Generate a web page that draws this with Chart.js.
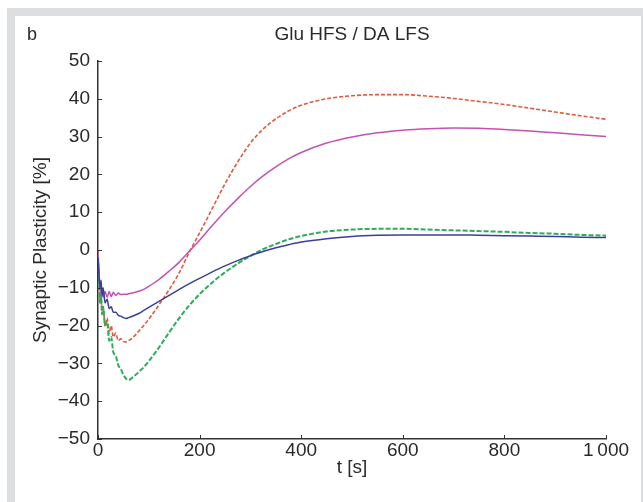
<!DOCTYPE html>
<html>
<head>
<meta charset="utf-8">
<script src="https://cdn.jsdelivr.net/npm/chart.js@4.4.1/dist/chart.umd.min.js"></script>
<style>
  body { margin: 0; background: #fff; }
  #frame { position: absolute; left: 7px; top: 8px; width: 636px; height: 494px; background: #dddedf; }
  #panel { position: absolute; left: 15px; top: 16px; width: 626px; height: 486px; background: #fff; }
  #chart { position: absolute; left: 0; top: 0; }
</style>
</head>
<body>
<div id="frame"></div>
<div id="panel"></div>
<canvas id="chart" width="643" height="502"></canvas>
<script>
// time axis [s]
const time = [0, 2, 4, 6, 8, 10, 14, 18, 22, 26, 30, 35, 40, 45, 50, 55, 60, 70, 80, 90, 100,
  120, 140, 160, 180, 200, 225, 250, 275, 300, 325, 350, 375, 400, 450, 500, 550, 600,
  650, 700, 750, 800, 850, 900, 950, 1000];

// synaptic plasticity [%], one array per curve
const redDashed = [0, -8, -14, -12, -17, -15, -20, -18, -22, -20, -23, -22, -24, -23.5, -24.2, -24.3, -24, -23, -21.5, -20, -18.3,
  -14.5, -10.5, -6, -0.5, 4.5, 11, 17.5, 23.3, 28.3, 32, 34.7, 36.8, 38.3, 40, 40.8, 41.1, 41.1,
  40.7, 40.1, 39.3, 38.5, 37.5, 36.5, 35.5, 34.6];

const magentaSolid = [-1, -6, -10, -13, -11, -12.5, -11, -12.5, -11, -12.3, -11.2, -12, -11.4, -11.8, -11.7, -11.7, -11.6, -11.3, -10.9, -10.4, -9.6,
  -7.8, -5.6, -3.2, -0.3, 2.6, 6.5, 10.2, 13.6, 16.8, 19.6, 22, 24.1, 25.8, 28.3, 29.9, 31, 31.7,
  32.1, 32.3, 32.2, 31.9, 31.5, 31, 30.5, 30];

const blueSolid = [-2, -7, -10, -8, -12, -10, -14, -13, -15.5, -15, -16.5, -16.5, -17.3, -17.5, -17.9, -18.1, -17.9, -17.4, -16.8, -16, -15.2,
  -13.6, -12, -10.4, -8.9, -7.5, -5.8, -4.2, -2.8, -1.5, -0.4, 0.6, 1.4, 2.1, 3, 3.6, 3.9, 4,
  4, 4, 3.9, 3.8, 3.7, 3.6, 3.4, 3.3];

const greenDashed = [-2, -9, -14, -12, -17, -15, -20, -19, -24, -23, -27, -28, -30.5, -31.5, -33, -34, -34.4, -33.5, -32.3, -31, -29.4,
  -25.8, -21.8, -18, -14.6, -11.7, -8.6, -5.9, -3.6, -1.6, 0.2, 1.6, 2.8, 3.7, 4.9, 5.4, 5.6, 5.6,
  5.4, 5.2, 5, 4.8, 4.5, 4.3, 4, 3.8];

const xTicks = [0, 200, 400, 600, 800, 1000];
const yTicks = [-50, -40, -30, -20, -10, 0, 10, 20, 30, 40, 50];

const FONT = '"Liberation Sans", sans-serif';
const INK = '#2a2a2a';

const pts = (vals) => time.map((t, i) => ({x: t, y: vals[i]}));

const mkSet = (vals, color, dash, width) => ({
    data: pts(vals),
    borderColor: color,
    borderWidth: width,
    borderDash: dash,
    pointRadius: 0,
    fill: false,
    cubicInterpolationMode: 'monotone'
});

// panel letter, title and inward tick marks
const extras = {
    id: 'extras',
    afterDraw(chart) {
        const {ctx, chartArea, scales} = chart;
        ctx.save();
        ctx.fillStyle = INK;
        ctx.font = '18px ' + FONT;
        ctx.textBaseline = 'middle';
        ctx.textAlign = 'left';
        ctx.fillText('b', 27, 35);
        ctx.textAlign = 'center';
        ctx.font = '19px ' + FONT;
        ctx.fillText('Glu HFS / DA LFS', (chartArea.left + chartArea.right) / 2, 35);

        ctx.strokeStyle = '#333';
        ctx.lineWidth = 1;
        ctx.beginPath();
        yTicks.forEach(v => {
            const y = Math.round(scales.y.getPixelForValue(v)) + 0.5;
            ctx.moveTo(chartArea.left, y);
            ctx.lineTo(chartArea.left + 4, y);
        });
        xTicks.forEach(v => {
            const x = Math.round(scales.x.getPixelForValue(v)) + 0.5;
            ctx.moveTo(x, chartArea.bottom);
            ctx.lineTo(x, chartArea.bottom - 4);
        });
        ctx.stroke();
        ctx.restore();
    }
};

const ctx = document.getElementById('chart').getContext('2d');
new Chart(ctx, {
    type: 'line',
    data: {
        datasets: [
            mkSet(blueSolid, '#3c3f98', [], 1.5),
            mkSet(greenDashed, '#2eac5c', [5, 2], 2),
            mkSet(magentaSolid, '#c452b2', [], 1.5),
            mkSet(redDashed, '#e4593b', [4, 2], 1.6)
        ]
    },
    options: {
        responsive: false,
        animation: false,
        devicePixelRatio: 1,
        layout: { padding: { left: 0, right: 37, top: 61, bottom: 13 } },
        plugins: { legend: { display: false }, tooltip: { enabled: false } },
        scales: {
            x: {
                type: 'linear',
                min: 0,
                max: 1000,
                afterFit: (s) => { s.height = 50; },
                afterBuildTicks: (s) => { s.ticks = xTicks.map(v => ({value: v})); },
                grid: { display: true, drawOnChartArea: false, drawTicks: false },
                border: { color: '#333', width: 1.5 },
                ticks: {
                    padding: 0,
                    color: INK,
                    font: { family: FONT, size: 19 },
                    maxRotation: 0,
                    callback: (v) => v === 1000 ? '1\u2009000' : String(v)
                },
                title: {
                    display: true,
                    text: 't [s]',
                    color: INK,
                    font: { family: FONT, size: 19 },
                    padding: { top: 0, bottom: 10 }
                }
            },
            y: {
                min: -50,
                max: 50,
                afterFit: (s) => { s.width = 98; },
                afterBuildTicks: (s) => { s.ticks = yTicks.map(v => ({value: v})); },
                grid: { display: true, drawOnChartArea: false, drawTicks: false },
                border: { color: '#333', width: 1.5 },
                ticks: {
                    padding: 8,
                    color: INK,
                    font: { family: FONT, size: 19 },
                    callback: (v) => String(v).replace('-', '\u2212')
                },
                title: {
                    display: true,
                    text: 'Synaptic Plasticity [%]',
                    color: INK,
                    font: { family: FONT, size: 19 },
                    padding: { top: 29, bottom: 0 }
                }
            }
        }
    },
    plugins: [extras]
});
</script>
</body>
</html>
